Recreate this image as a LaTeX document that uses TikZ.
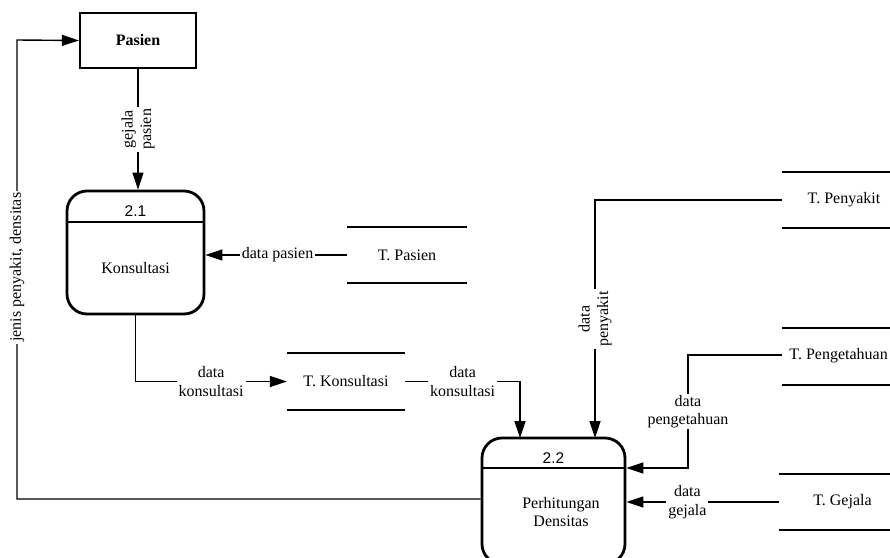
\documentclass[tikz,border=0pt]{standalone}
\usepackage{fontspec}
\setmainfont{Liberation Serif}
\newfontfamily\arialf{Liberation Sans}
\usetikzlibrary{arrows.meta,calc}
\begin{document}
\begin{tikzpicture}[x=1pt,y=-1pt,
  every node/.style={font=\fontsize{16}{18.5}\selectfont, inner sep=0pt},
  flow/.style={line width=1.4pt},
  arr/.style={flow,-{Triangle[length=17pt,width=11pt]}},
  lbl/.style={fill=white, align=center, inner xsep=2pt, inner ysep=1pt},
  procbox/.style={draw, line width=2.8pt, rounded corners=20pt},
  storeline/.style={line width=2.2pt},
  entity/.style={draw, line width=2.2pt, minimum width=116pt, minimum height=55pt, font=\fontsize{16}{18}\selectfont\bfseries},
  store/.style={minimum height=56pt},
  pnum/.style={font=\fontsize{15.5}{18}\selectfont\arialf}
]
\useasboundingbox (0,0) rectangle (890,557);
\fill[white] (0,0) rectangle (890,557);

% external entity
\node[entity] (pasien) at (138,40.5) {Pasien};

% processes
\node[procbox, minimum width=137pt, minimum height=123pt] (p21) at (135.5,252.5) {};
\coordinate (d21) at (0,222);
\draw[line width=1.3pt] (p21.west |- d21) -- (p21.east |- d21);
\node[pnum] (n21) at (135.5,211) {2.1};
\node (t21) at (135.5,268) {Konsultasi};

\node[procbox, minimum width=143pt, minimum height=126pt] (p22) at (553.5,501) {};
\coordinate (d22) at (0,468);
\draw[line width=1.3pt] (p22.west |- d22) -- (p22.east |- d22);
\node[pnum] (n22) at (553.5,458) {2.2};
\node[align=center] (t22) at (561,512) {Perhitungan\\Densitas};

% data stores
\node[store, minimum width=120pt] (tpasien) at (407,255) {T. Pasien};
\node[store, minimum width=118pt, minimum height=57pt] (tkons) at (346,381.5) {T. Konsultasi};
\node[store, minimum width=124pt] (tpeny) at (844,200) {T. Penyakit};
\node[store, minimum width=124pt, minimum height=57pt] (tpeng) at (844,356.5) {};
\node[anchor=east] (tpengtxt) at (888,356) {T. Pengetahuan};
\node[store, minimum width=127pt] (tgej) at (842.5,502) {T. Gejala};
\foreach \s in {tpasien,tkons,tpeny,tpeng,tgej}{
  \draw[storeline] (\s.north west) -- (\s.north east);
  \draw[storeline] (\s.south west) -- (\s.south east);
}

% flows
\draw[arr] (pasien.south) -- (pasien.south |- p21.north)
  node[lbl, midway, rotate=90] {gejala\\pasien};

\coordinate (c1) at (17,499);
\coordinate (c2) at (17,40);
\draw[arr] (p22.west |- c1) -- (c1) -- node[lbl, pos=0.505, rotate=90] {jenis penyakit, densitas} (c2) -- (pasien.west);

\draw[arr] (tpasien.west) -- node[lbl, pos=0.49] {data pasien} (tpasien.west -| p21.east);

\draw[arr] (p21.south) |- node[lbl, pos=0.75] {data\\konsultasi} (tkons.west);

\coordinate (k2) at (520,438);
\draw[arr] (tkons.east) -| node[lbl, pos=0.25] {data\\konsultasi} (k2);

\coordinate (k3) at (595,438);
\draw[arr] (tpeny.west) -| node[lbl, pos=0.75, rotate=90] {data\\penyakit} (k3);

\coordinate (k4) at (688,355);
\coordinate (k5) at (688,468);
\draw[arr] (tpeng.west |- k4) -- (k4) -- node[lbl, midway] {data\\pengetahuan} (k5) -- (p22.east |- k5);

\draw[arr] (tgej.west) -- node[lbl, pos=0.6] {data\\gejala} (tgej.west -| p22.east);
\end{tikzpicture}
\end{document}
